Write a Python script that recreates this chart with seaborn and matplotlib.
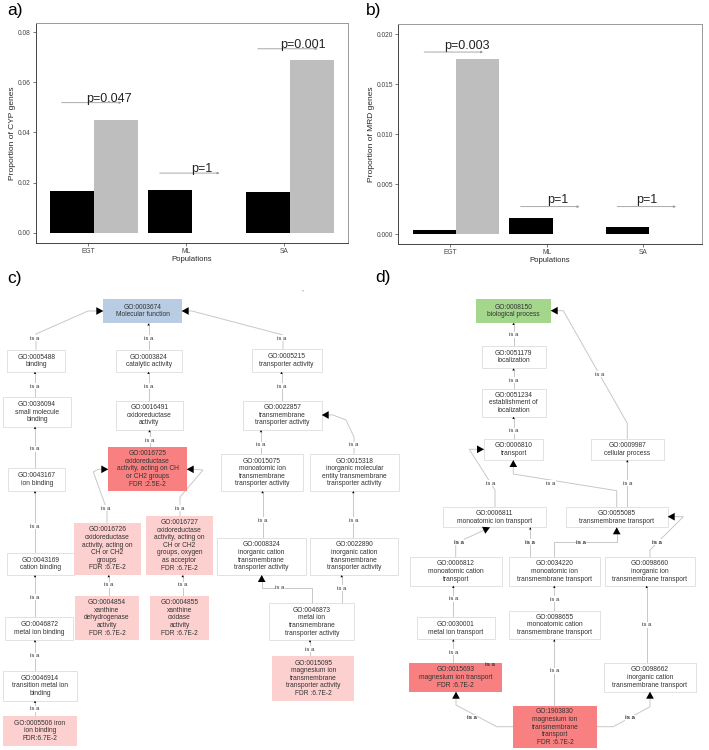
import numpy as np
import pandas as pd
import matplotlib
matplotlib.use('Agg')
import matplotlib.pyplot as plt
from matplotlib.patches import Rectangle
from matplotlib.ticker import FormatStrFormatter, MultipleLocator
import seaborn as sns

# ---------------- data: bar panels a) and b) ----------------
populations = ['EGT', 'ML', 'SA']
gene_sets = ['genome', 'candidates']
cyp_genome = [0.0167, 0.0172, 0.0163]
cyp_cand = [0.0451, 0.0, 0.0690]
mrd_genome = [0.00043, 0.0016, 0.0007]
mrd_cand = [0.01753, 0.0, 0.0]
cyp_pvals = ['p=0.047', 'p=1', 'p=0.001']
mrd_pvals = ['p=0.003', 'p=1', 'p=1']
cyp_p_level = [0.0519, 0.0238, 0.0734]
mrd_p_level = [0.0182, 0.00276, 0.00276]

# ---------------- data: GO graph c) ----------------
c_labels = [
    'GO:0003674\nMolecular function',
    'GO:0005488\nbinding',
    'GO:0003824\ncatalytic activity',
    'GO:0005215\ntransporter activity',
    'GO:0036094\nsmall molecule\nbinding',
    'GO:0016491\noxidoreductase\nactivity',
    'GO:0022857\ntransmembrane\ntransporter activity',
    'GO:0043167\nion binding',
    'GO:0016725\noxidoreductase\nactivity, acting on CH\nor CH2 groups\nFDR :2.5E-2',
    'GO:0015075\nmonoatomic ion\ntransmembrane\ntransporter activity',
    'GO:0015318\ninorganic molecular\nentity transmembrane\ntransporter activity',
    'GO:0043169\ncation binding',
    'GO:0016726\noxidoreductase\nactivity, acting on\nCH or CH2\ngroups\nFDR :6.7E-2',
    'GO:0016727\noxidoreductase\nactivity, acting on\nCH or CH2\ngroups, oxygen\nas acceptor\nFDR :6.7E-2',
    'GO:0008324\ninorganic cation\ntransmembrane\ntransporter activity',
    'GO:0022890\ninorganic cation\ntransmembrane\ntransporter activity',
    'GO:0046872\nmetal ion binding',
    'GO:0004854\nxanthine\ndehydrogenase\nactivity\nFDR :6.7E-2',
    'GO:0004855\nxanthine\noxidase\nactivity\nFDR :6.7E-2',
    'GO:0046873\nmetal ion\ntransmembrane\ntransporter activity',
    'GO:0046914\ntransition metal ion\nbinding',
    'GO:0015095\nmagnesium ion\ntransmembrane\ntransporter activity\nFDR :6.7E-2',
    'GO:0005506 iron\nion binding\nFDR:6.7E-2',
]
c_kind = ['root', 'term', 'term', 'term', 'term', 'term', 'term', 'term', 'strong',
          'term', 'term', 'term', 'weak', 'weak', 'term', 'term', 'term', 'weak',
          'weak', 'term', 'term', 'weak', 'weak']
# (child, parent) "is a" relations
c_edges = [(1, 0), (2, 0), (3, 0), (4, 1), (5, 2), (6, 3), (7, 4), (8, 5), (9, 6),
           (10, 6), (11, 7), (12, 8), (13, 8), (14, 9), (15, 10), (16, 11), (17, 12),
           (18, 13), (19, 14), (19, 15), (20, 16), (21, 19), (22, 20)]

# ---------------- data: GO graph d) ----------------
d_labels = [
    'GO:0008150\nbiological process',
    'GO:0051179\nlocalization',
    'GO:0051234\nestablishment of\nlocalization',
    'GO:0006810\ntransport',
    'GO:0009987\ncellular process',
    'GO:0006811\nmonoatomic ion transport',
    'GO:0055085\ntransmembrane transport',
    'GO:0006812\nmonoatomic cation\ntransport',
    'GO:0034220\nmonoatomic ion\ntransmembrane transport',
    'GO:0098660\ninorganic ion\ntransmembrane transport',
    'GO:0030001\nmetal ion transport',
    'GO:0098655\nmonoatomic cation\ntransmembrane transport',
    'GO:0015693\nmagnesium ion transport\nFDR :6.7E-2',
    'GO:0098662\ninorganic cation\ntransmembrane transport',
    'GO:1903830\nmagnesium ion\ntransmembrane\ntransport\nFDR :6.7E-2',
]
d_kind = ['root_bp', 'term', 'term', 'term', 'term', 'term', 'term', 'term', 'term',
          'term', 'term', 'term', 'strong', 'term', 'strong']
d_edges = [(1, 0), (2, 1), (3, 2), (4, 0), (5, 3), (6, 3), (6, 4), (7, 5), (8, 5),
           (8, 6), (9, 6), (10, 7), (11, 8), (12, 10), (14, 11), (13, 9), (14, 12),
           (14, 13)]

# ---------------- layout (figure pixels, y down) ----------------
c_boxes = [(103.3, 299, 181.7, 323.3), (7.3, 350, 65, 371.7), (115.7, 350, 181.7, 371.7),
           (251.7, 349.3, 321.7, 371.7), (2.7, 397.3, 71, 426.7), (115.7, 400.7, 182.7, 430),
           (242.7, 400.7, 321.7, 430), (8.3, 468.3, 65, 491), (108.3, 446.7, 186.7, 491),
           (220.7, 454, 303.3, 491), (310, 454, 399.3, 491), (7.3, 553.3, 74, 575),
           (74, 522.7, 140.7, 575), (145.7, 515.7, 213.3, 575), (216.7, 537.7, 306, 575),
           (310, 537.7, 398.3, 575), (5, 617.3, 73.3, 640), (75.3, 595.7, 138.7, 640),
           (150, 595.7, 209, 640), (269.3, 603.3, 354.3, 640), (3.3, 670.7, 76.7, 700.7),
           (272.3, 656, 354.3, 700.7), (3.3, 715.7, 76.7, 746)]
c_routes = [
    ([(36, 350), (36, 334), (88, 311), (103.3, 311)], (34.5, 338)),
    (148.5, 338),
    ([(283, 349.3), (283, 335), (192, 311), (181.7, 311)], (282, 338)),
    (35, 386), (148.5, 386), (281.5, 386), (35, 449), (149.5, 440), (261, 444.7),
    ([(354, 454), (354, 437), (346, 420), (333, 415), (321.7, 415)], (353.3, 444.7)),
    (35, 526),
    ([(107, 522.7), (107, 510), (93.3, 472), (98, 469.3), (108.3, 469.3)], (106, 508)),
    ([(180, 515.7), (180, 497), (203, 470), (196, 469.3), (186.7, 469.3)], (180, 508)),
    (262.5, 520), (353.3, 520), (35, 597.3), (108.7, 585), (182.7, 585),
    ([(311.7, 603.3), (311.7, 587.7), (261.7, 587.7), (261.7, 575)], (280, 587.3)),
    (341.7, 588.3), (35, 655.7), (310, 649.3), (35, 709),
]
d_boxes = [(476, 299, 550.7, 322.7), (481.7, 345.7, 545.7, 368.3), (481.7, 389, 545.7, 416.7),
           (484, 438.7, 543.3, 460), (590.7, 438.7, 664.3, 460), (443.3, 507.3, 545.7, 527.3),
           (565.7, 507.3, 667.7, 527.3), (410, 557.3, 501.7, 585.7), (509, 557.3, 600, 585.7),
           (605, 557.3, 695, 585.7), (416.7, 617.3, 495, 639.3), (509, 610.7, 600, 639.3),
           (409, 663.3, 502.3, 691.7), (604, 663.3, 696, 691.7), (513.3, 706, 596.7, 748.3)]
d_routes = [
    (513.5, 335), (513.5, 380), (513.5, 431),
    ([(627.3, 438.7), (627.3, 423.3), (563.3, 310.7), (550.7, 310.7)], (599.3, 374)),
    ([(495, 507.3), (495, 490), (469.3, 449.3), (484, 449.3)], (490.7, 483.3)),
    ([(616.7, 507.3), (616.7, 490.7), (513.3, 474), (513.3, 460)], (551, 483.3)),
    (627.3, 483.3),
    ([(455.7, 557.3), (455.7, 543), (470, 536.7), (490, 527.3)], (459, 542.3)),
    (530.3, 542.3),
    ([(554, 557.3), (554, 542.3), (616.7, 542.3), (616.7, 527.3)], (581, 542.3)),
    ([(650, 557.3), (650, 550), (683.3, 516.7), (667.7, 516.7)], (656.7, 542.3)),
    (453.3, 599), (554.3, 599.3), (453.3, 652.3), (554.3, 671), (646.7, 625),
    ([(513.3, 726.7), (496.7, 726.7), (456, 705), (456, 691.7)], (472, 717.7)),
    ([(596.7, 726.7), (613.3, 726.7), (650, 706.7), (650, 691.7)], (630, 717.7)),
]
d_bold = [7, 8, 9, 10, 16, 17]

kind_fill = {'root': '#b8cce4', 'root_bp': '#a4d68c', 'term': 'white',
             'strong': '#f88080', 'weak': '#fdd0d0'}

sns.set_theme(style='white')
plt.rcParams['font.family'] = ['Liberation Sans', 'DejaVu Sans']

fig = plt.figure(figsize=(7.09, 7.5), dpi=100)
axd = fig.add_axes([0, 0, 1, 1])
axd.set_xlim(0, 709)
axd.set_ylim(750, 0)
axd.axis('off')

LINE = '#c8c8c8'
TXT = '#333333'


def head(ax, p0, p1, size):
    d = np.subtract(p1, p0).astype(float)
    d /= np.hypot(*d)
    n = np.array([-d[1], d[0]])
    tip = np.array(p1, dtype=float)
    base = tip - d * size
    pts = np.array([tip, base + n * size * 0.55, base - n * size * 0.55])
    ax.fill(pts[:, 0], pts[:, 1], color='black', lw=0, zorder=3)


def draw_graph(ax, labels, kinds, edges, boxes, routes, bold=()):
    for (x0, y0, x1, y1), lab, kd in zip(boxes, labels, kinds):
        ec = '#dddddd' if kd == 'term' else 'none'
        ax.add_patch(Rectangle((x0, y0), x1 - x0, y1 - y0, facecolor=kind_fill[kd],
                               edgecolor=ec, lw=0.6, zorder=2))
        ax.text((x0 + x1) / 2, (y0 + y1) / 2, lab, ha='center', va='center',
                fontsize=4.8, linespacing=1.12, color=TXT, zorder=4)
    for k, ((ch, pa), rt) in enumerate(zip(edges, routes)):
        if isinstance(rt[0], list):
            pts, (lx, ly) = rt
            big = True
        else:
            x, ly = rt
            lx = x
            pts = [(x, boxes[ch][1]), (x, boxes[pa][3])]
            big = False
        xs, ys = zip(*pts)
        ax.plot(xs, ys, color=LINE, lw=0.7, zorder=1)
        head(ax, pts[-2], pts[-1], 7 if big else 2.2)
        ax.text(lx, ly, 'is a', ha='center', va='center', fontsize=4.3, color=TXT,
                fontweight='bold' if k in bold else 'normal', zorder=4,
                bbox=dict(facecolor='white', edgecolor='none', pad=0.4))


draw_graph(axd, c_labels, c_kind, c_edges, c_boxes, c_routes)
draw_graph(axd, d_labels, d_kind, d_edges, d_boxes, d_routes, d_bold)
axd.text(490, 664.5, 'is a', ha='center', va='center', fontsize=4.3,
         fontweight='bold', color=TXT, zorder=5)
axd.text(302, 289, ',', ha='center', va='center', fontsize=5, color='#444', rotation=30)

for lab, x, y in [('a)', 7, 3), ('b)', 366, 3), ('c)', 7, 271), ('d)', 375, 270)]:
    axd.text(x, y, lab, fontsize=12.5, va='top', ha='left', color='black')


def bar_panel(rect, genome, cand, pvals, p_level, ylabel, ylim, xlim, step, fmt, tdx, tdy):
    ax = fig.add_axes(rect)
    df = pd.DataFrame({'Populations': populations * 2,
                       'proportion': genome + cand,
                       'set': [gene_sets[0]] * 3 + [gene_sets[1]] * 3})
    sns.barplot(data=df, x='Populations', y='proportion', hue='set',
                palette=['black', '#bebebe'], width=0.9, saturation=1, linewidth=0,
                errorbar=None, legend=False, ax=ax)
    ax.set_xlim(*xlim)
    ax.set_ylim(*ylim)
    ax.set_xticks([i - 0.06 for i in range(3)], populations)
    ax.yaxis.set_major_locator(MultipleLocator(step))
    ax.yaxis.set_major_formatter(FormatStrFormatter(fmt))
    ax.set_ylabel(ylabel, fontsize=6, labelpad=1.5)
    ax.set_xlabel('Populations', fontsize=5.6, labelpad=0.5)
    ax.tick_params(axis='both', labelsize=4.8, colors='#444444', length=2, width=0.5,
                   pad=1.5, left=True, bottom=True)
    for side, sp in ax.spines.items():
        sp.set_visible(True)
        sp.set_linewidth(0.7)
        sp.set_color('#444444' if side in ('left', 'bottom') else '#999999')
    for i in range(3):
        ax.annotate('', xy=(i + 0.28, p_level[i]), xytext=(i - 0.33, p_level[i]),
                    arrowprops=dict(arrowstyle='-|>', color='#9a9a9a', lw=0.6,
                                    mutation_scale=3, shrinkA=0, shrinkB=0))
        ax.annotate(pvals[i], xy=(i + tdx[i], p_level[i]), xytext=(0, tdy),
                    textcoords='offset points', ha='center', va='baseline',
                    fontsize=9, color='#222222')
    return ax


bar_panel([0.0504, 0.676, 0.4404, 0.2937], cyp_genome, cyp_cand, cyp_pvals, cyp_p_level,
          'Proportion of CYP genes', (-0.0041, 0.0838), (-0.595, 2.59), 0.02, '%.2f',
          [0.15, 0.10, 0.13], 0.5)
bar_panel([0.5618, 0.6743, 0.4279, 0.2937], mrd_genome, mrd_cand, mrd_pvals, mrd_p_level,
          'Proportion of MRD genes', (-0.001, 0.021), (-0.598, 2.546), 0.005, '%.3f',
          [0.11, 0.05, -0.02], 2.5)

fig.savefig('out.png', dpi=100)
